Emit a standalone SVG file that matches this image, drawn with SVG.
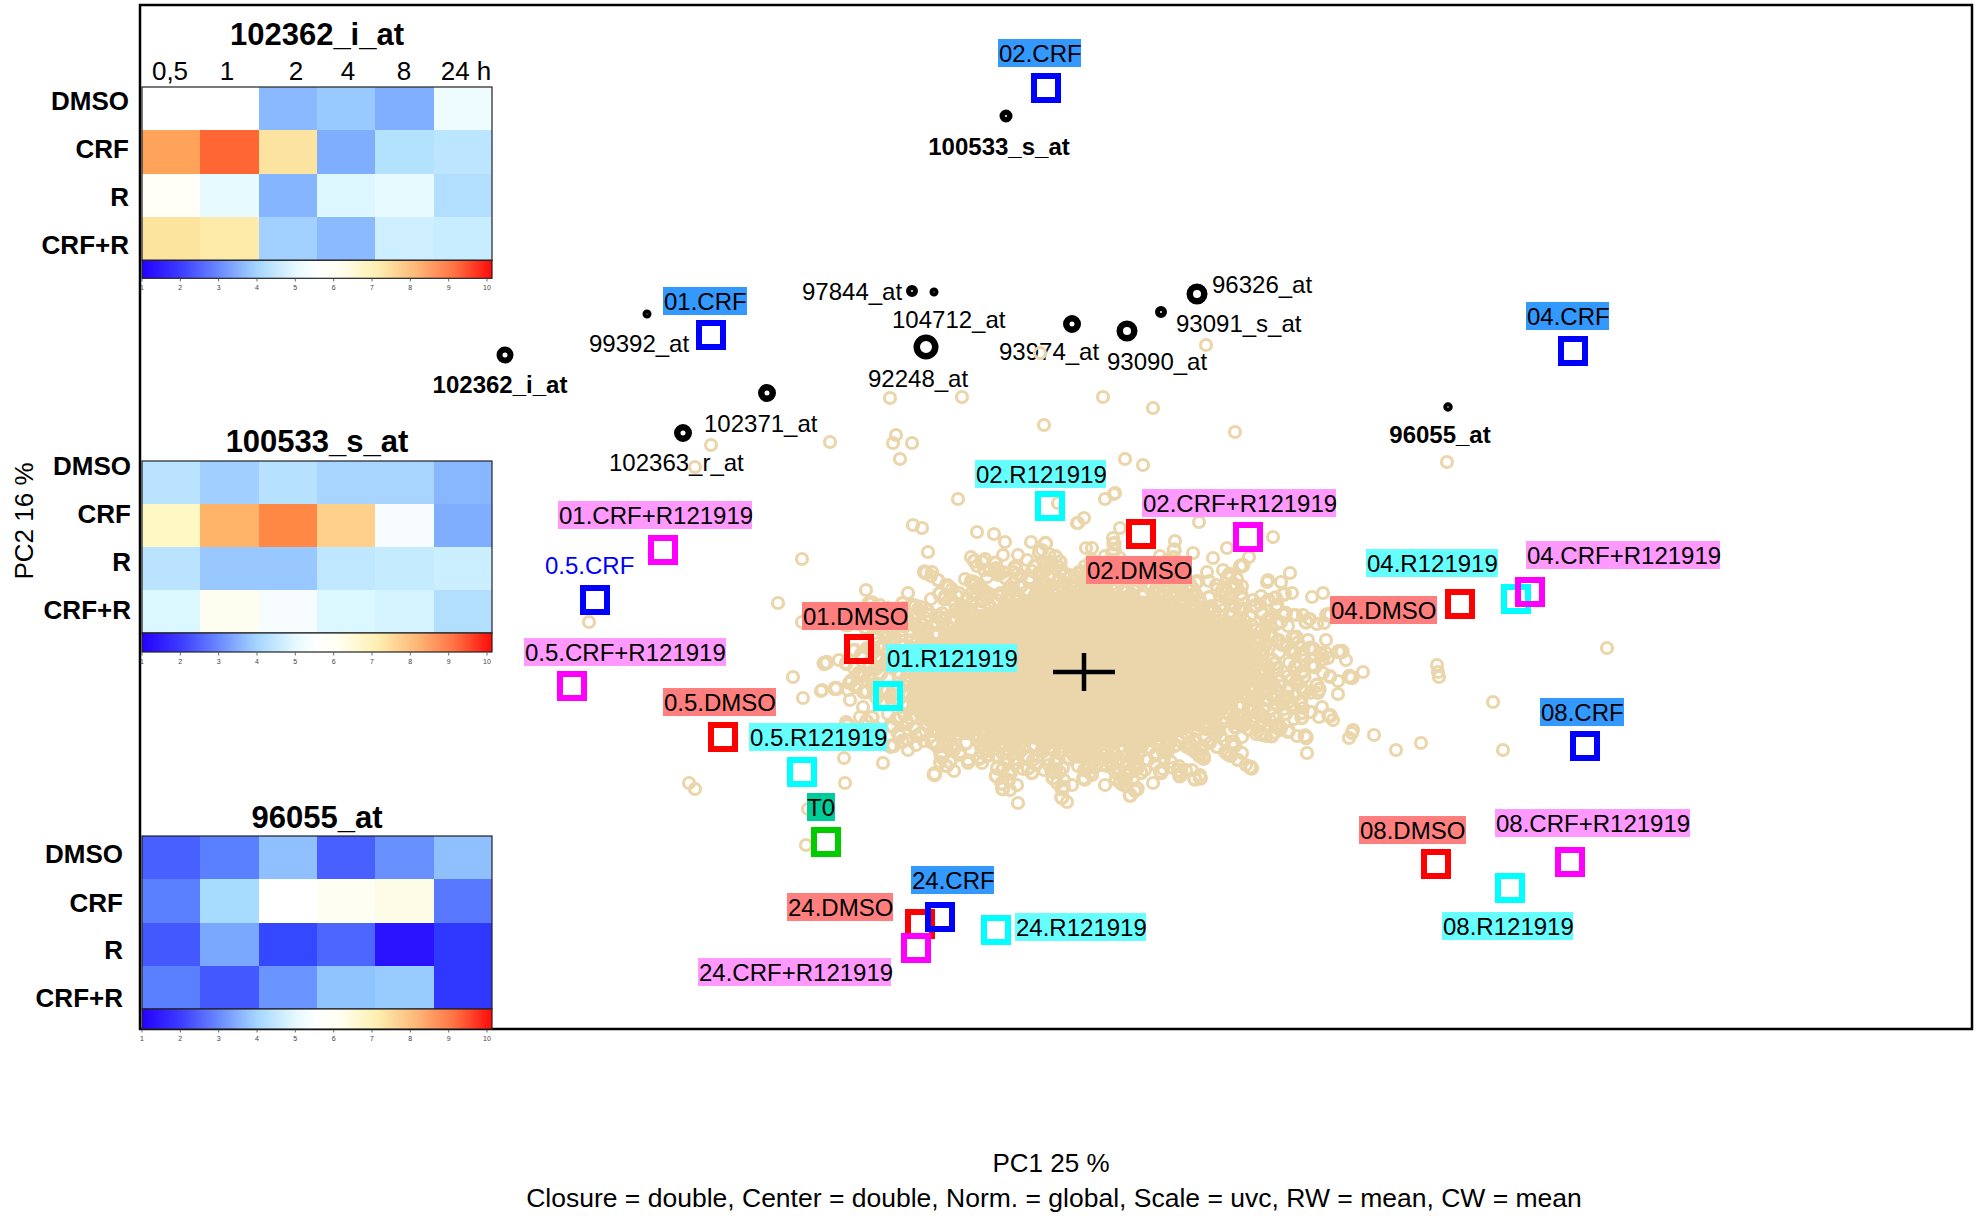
<svg xmlns="http://www.w3.org/2000/svg" width="1980" height="1216" viewBox="0 0 1980 1216">
<style>
text{font-family:"Liberation Sans",Arial,sans-serif;fill:#000}
.lb{font-size:24px}
.bl{font-size:24px;font-weight:bold}
.ht{font-size:31px;font-weight:bold;text-anchor:middle}
.rl{font-size:26px;font-weight:bold;text-anchor:end}
.cl{font-size:26px;text-anchor:middle}
.tk{font-size:7px;fill:#444;text-anchor:middle}
.ax{font-size:26px;text-anchor:middle}
.gb{fill:none;stroke:#222;stroke-width:1.2}
.crf{fill:#3399FF}.rr{fill:#66FFFF}.dm{fill:#FF7F7F}.cr{fill:#FF99FF}.tz{fill:#00CC99}
.sq{fill:none;stroke-width:6}
.pr{fill:#fff;stroke:#000}
.cc circle{fill:none;stroke:#EBD6AB;stroke-width:3.2}
</style>
<defs>
<linearGradient id="cb" gradientUnits="userSpaceOnUse" x1="142" y1="0" x2="492" y2="0">
<stop offset="0" stop-color="#2400FF"/><stop offset="0.11" stop-color="#3C3CFF"/><stop offset="0.22" stop-color="#6A8AFF"/><stop offset="0.33" stop-color="#A6D6FF"/><stop offset="0.44" stop-color="#E6F9FF"/><stop offset="0.5" stop-color="#FFFFFF"/><stop offset="0.56" stop-color="#FFFFF2"/><stop offset="0.67" stop-color="#FDF0B2"/><stop offset="0.78" stop-color="#FDBA7A"/><stop offset="0.89" stop-color="#FF7444"/><stop offset="1" stop-color="#FF0A0A"/>
</linearGradient>
<g id="ticks">
<path d="M142 0v3M180.3 0v3M218.7 0v3M257 0v3M295.3 0v3M333.7 0v3M372 0v3M410.3 0v3M448.7 0v3M487 0v3" stroke="#444" stroke-width="0.8"/>
<text class="tk" x="142" y="11">1</text><text class="tk" x="180.3" y="11">2</text><text class="tk" x="218.7" y="11">3</text><text class="tk" x="257" y="11">4</text><text class="tk" x="295.3" y="11">5</text><text class="tk" x="333.7" y="11">6</text><text class="tk" x="372" y="11">7</text><text class="tk" x="410.3" y="11">8</text><text class="tk" x="448.7" y="11">9</text><text class="tk" x="487" y="11">10</text>
</g>
<g id="band" class="cc">
<circle cx="1256" cy="679" r="5.5"/><circle cx="1249" cy="690" r="5.5"/><circle cx="1242" cy="706" r="5.5"/><circle cx="1224" cy="718" r="5.5"/><circle cx="1209" cy="725" r="5.5"/><circle cx="1182" cy="738" r="5.5"/><circle cx="1161" cy="740" r="5.5"/><circle cx="1130" cy="749" r="5.5"/><circle cx="1105" cy="748" r="5.5"/><circle cx="1071" cy="752" r="5.5"/><circle cx="1046" cy="745" r="5.5"/><circle cx="1015" cy="744" r="5.5"/><circle cx="994" cy="734" r="5.5"/><circle cx="967" cy="729" r="5.5"/><circle cx="952" cy="714" r="5.5"/><circle cx="934" cy="706" r="5.5"/><circle cx="928" cy="689" r="5.5"/><circle cx="919" cy="679" r="5.5"/><circle cx="923" cy="661" r="5.5"/><circle cx="924" cy="651" r="5.5"/><circle cx="938" cy="634" r="5.5"/><circle cx="948" cy="626" r="5.5"/><circle cx="971" cy="611" r="5.5"/><circle cx="990" cy="606" r="5.5"/><circle cx="1019" cy="596" r="5.5"/><circle cx="1042" cy="595" r="5.5"/><circle cx="1075" cy="588" r="5.5"/><circle cx="1101" cy="592" r="5.5"/><circle cx="1134" cy="591" r="5.5"/><circle cx="1157" cy="600" r="5.5"/><circle cx="1186" cy="602" r="5.5"/><circle cx="1205" cy="615" r="5.5"/><circle cx="1228" cy="622" r="5.5"/><circle cx="1238" cy="638" r="5.5"/><circle cx="1252" cy="647" r="5.5"/><circle cx="1253" cy="665" r="5.5"/>
<circle cx="1295" cy="666" r="5.5"/><circle cx="1288" cy="690" r="5.5"/><circle cx="1284" cy="700" r="5.5"/><circle cx="1262" cy="722" r="5.5"/><circle cx="1248" cy="729" r="5.5"/><circle cx="1217" cy="747" r="5.5"/><circle cx="1195" cy="751" r="5.5"/><circle cx="1155" cy="764" r="5.5"/><circle cx="1127" cy="763" r="5.5"/><circle cx="1084" cy="770" r="5.5"/><circle cx="1055" cy="763" r="5.5"/><circle cx="1015" cy="764" r="5.5"/><circle cx="988" cy="751" r="5.5"/><circle cx="952" cy="747" r="5.5"/><circle cx="934" cy="729" r="5.5"/><circle cx="907" cy="722" r="5.5"/><circle cx="897" cy="700" r="5.5"/><circle cx="883" cy="690" r="5.5"/><circle cx="880" cy="673" r="5.5"/><circle cx="889" cy="650" r="5.5"/><circle cx="893" cy="640" r="5.5"/><circle cx="913" cy="619" r="5.5"/><circle cx="928" cy="611" r="5.5"/><circle cx="959" cy="593" r="5.5"/><circle cx="982" cy="589" r="5.5"/><circle cx="1021" cy="576" r="5.5"/><circle cx="1049" cy="577" r="5.5"/><circle cx="1091" cy="570" r="5.5"/><circle cx="1121" cy="577" r="5.5"/><circle cx="1161" cy="576" r="5.5"/><circle cx="1188" cy="589" r="5.5"/><circle cx="1223" cy="593" r="5.5"/><circle cx="1242" cy="611" r="5.5"/><circle cx="1269" cy="619" r="5.5"/><circle cx="1278" cy="640" r="5.5"/><circle cx="1293" cy="650" r="5.5"/>
<circle cx="1330" cy="676" r="5.5"/><circle cx="1311" cy="712" r="5.5"/><circle cx="1289" cy="731" r="5.5"/><circle cx="1238" cy="760" r="5.5"/><circle cx="1192" cy="770" r="5.5"/><circle cx="1127" cy="786" r="5.5"/><circle cx="1064" cy="780" r="5.5"/><circle cx="1009" cy="780" r="5.5"/><circle cx="946" cy="766" r="5.5"/><circle cx="908" cy="740" r="5.5"/><circle cx="866" cy="721" r="5.5"/><circle cx="855" cy="687" r="5.5"/><circle cx="846" cy="663" r="5.5"/><circle cx="866" cy="628" r="5.5"/><circle cx="888" cy="608" r="5.5"/><circle cx="938" cy="580" r="5.5"/><circle cx="990" cy="570" r="5.5"/><circle cx="1043" cy="561" r="5.5"/><circle cx="1112" cy="553" r="5.5"/><circle cx="1167" cy="566" r="5.5"/><circle cx="1229" cy="574" r="5.5"/><circle cx="1269" cy="600" r="5.5"/><circle cx="1309" cy="619" r="5.5"/><circle cx="1320" cy="653" r="5.5"/>
<circle cx="1252" cy="670" r="5.5"/><circle cx="1246" cy="694" r="5.5"/><circle cx="1226" cy="712" r="5.5"/><circle cx="1206" cy="722" r="5.5"/><circle cx="1168" cy="740" r="5.5"/><circle cx="1134" cy="741" r="5.5"/><circle cx="1088" cy="749" r="5.5"/><circle cx="1052" cy="742" r="5.5"/><circle cx="1008" cy="740" r="5.5"/><circle cx="975" cy="728" r="5.5"/><circle cx="948" cy="712" r="5.5"/><circle cx="932" cy="694" r="5.5"/><circle cx="928" cy="669" r="5.5"/><circle cx="938" cy="650" r="5.5"/><circle cx="948" cy="636" r="5.5"/><circle cx="980" cy="617" r="5.5"/><circle cx="1013" cy="604" r="5.5"/><circle cx="1046" cy="598" r="5.5"/><circle cx="1093" cy="595" r="5.5"/><circle cx="1128" cy="602" r="5.5"/><circle cx="1173" cy="605" r="5.5"/><circle cx="1200" cy="622" r="5.5"/><circle cx="1232" cy="633" r="5.5"/><circle cx="1243" cy="656" r="5.5"/>
<circle cx="1266" cy="680" r="5.5"/><circle cx="1250" cy="706" r="5.5"/><circle cx="1233" cy="720" r="5.5"/><circle cx="1194" cy="741" r="5.5"/><circle cx="1160" cy="746" r="5.5"/><circle cx="1110" cy="757" r="5.5"/><circle cx="1070" cy="751" r="5.5"/><circle cx="1020" cy="752" r="5.5"/><circle cx="986" cy="735" r="5.5"/><circle cx="946" cy="726" r="5.5"/><circle cx="930" cy="700" r="5.5"/><circle cx="913" cy="686" r="5.5"/><circle cx="919" cy="658" r="5.5"/><circle cx="924" cy="643" r="5.5"/><circle cx="953" cy="618" r="5.5"/><circle cx="980" cy="609" r="5.5"/><circle cx="1026" cy="592" r="5.5"/><circle cx="1063" cy="592" r="5.5"/><circle cx="1117" cy="587" r="5.5"/><circle cx="1154" cy="598" r="5.5"/><circle cx="1200" cy="603" r="5.5"/><circle cx="1227" cy="624" r="5.5"/><circle cx="1257" cy="637" r="5.5"/><circle cx="1261" cy="664" r="5.5"/>
<circle cx="1288" cy="676" r="5.5"/><circle cx="1274" cy="699" r="5.5"/><circle cx="1262" cy="715" r="5.5"/><circle cx="1224" cy="740" r="5.5"/><circle cx="1191" cy="749" r="5.5"/><circle cx="1137" cy="765" r="5.5"/><circle cx="1094" cy="760" r="5.5"/><circle cx="1036" cy="765" r="5.5"/><circle cx="995" cy="749" r="5.5"/><circle cx="948" cy="740" r="5.5"/><circle cx="924" cy="715" r="5.5"/><circle cx="899" cy="699" r="5.5"/><circle cx="892" cy="668" r="5.5"/><circle cx="905" cy="645" r="5.5"/><circle cx="918" cy="629" r="5.5"/><circle cx="955" cy="604" r="5.5"/><circle cx="989" cy="595" r="5.5"/><circle cx="1043" cy="580" r="5.5"/><circle cx="1087" cy="583" r="5.5"/><circle cx="1143" cy="580" r="5.5"/><circle cx="1185" cy="595" r="5.5"/><circle cx="1231" cy="604" r="5.5"/><circle cx="1256" cy="629" r="5.5"/><circle cx="1282" cy="645" r="5.5"/>
<circle cx="1302" cy="688" r="5.5"/><circle cx="1286" cy="714" r="5.5"/><circle cx="1258" cy="731" r="5.5"/><circle cx="1173" cy="768" r="5.5"/><circle cx="1118" cy="774" r="5.5"/><circle cx="1003" cy="768" r="5.5"/><circle cx="960" cy="755" r="5.5"/><circle cx="916" cy="736" r="5.5"/><circle cx="888" cy="714" r="5.5"/><circle cx="874" cy="684" r="5.5"/><circle cx="878" cy="656" r="5.5"/><circle cx="892" cy="631" r="5.5"/><circle cx="917" cy="613" r="5.5"/><circle cx="1005" cy="578" r="5.5"/><circle cx="1062" cy="570" r="5.5"/><circle cx="1120" cy="571" r="5.5"/><circle cx="1171" cy="580" r="5.5"/><circle cx="1222" cy="590" r="5.5"/><circle cx="1262" cy="612" r="5.5"/><circle cx="1305" cy="660" r="5.5"/>
</g>
</defs>
<rect width="1980" height="1216" fill="#fff"/>

<rect id="frame" x="140" y="5" width="1832" height="1024" fill="none" stroke="#000" stroke-width="2.5"/>

<!-- probe markers -->
<g id="probes">
<g id="p-100533"><circle class="pr" cx="1006" cy="116" r="3.75" stroke-width="5.5"/><text class="bl" x="999" y="155" text-anchor="middle">100533_s_at</text></g>
<g id="p-102362"><circle class="pr" cx="505" cy="355" r="5.5" stroke-width="6"/><text class="bl" x="500" y="393" text-anchor="middle">102362_i_at</text></g>
<g id="p-96055"><circle class="pr" cx="1448" cy="407" r="2.75" stroke-width="4"/><text class="bl" x="1440" y="443" text-anchor="middle">96055_at</text></g>
<g id="p-99392"><circle class="pr" cx="647" cy="314" r="2.5" stroke-width="4"/><text class="lb" x="589" y="352">99392_at</text></g>
<g id="p-97844"><circle class="pr" cx="912" cy="291" r="3.5" stroke-width="5"/><text class="lb" x="802" y="300">97844_at</text></g>
<g id="p-104712"><circle class="pr" cx="934" cy="292" r="2.5" stroke-width="4"/><text class="lb" x="892" y="328">104712_at</text></g>
<g id="p-92248"><circle class="pr" cx="926" cy="347" r="9.25" stroke-width="6.5"/><text class="lb" x="868" y="387">92248_at</text></g>
<g id="p-93974"><circle class="pr" cx="1072" cy="324" r="5.75" stroke-width="6.5"/><text class="lb" x="999" y="360">93974_at</text></g>
<g id="p-93090"><circle class="pr" cx="1127" cy="331" r="7.25" stroke-width="6.5"/><text class="lb" x="1107" y="370">93090_at</text></g>
<g id="p-93091"><circle class="pr" cx="1161" cy="312" r="3.5" stroke-width="5"/><text class="lb" x="1176" y="332">93091_s_at</text></g>
<g id="p-96326"><circle class="pr" cx="1197" cy="294" r="7.25" stroke-width="6.5"/><text class="lb" x="1212" y="293">96326_at</text></g>
<g id="p-102371"><circle class="pr" cx="767" cy="393" r="5.75" stroke-width="6.5"/><text class="lb" x="704" y="432">102371_at</text></g>
<g id="p-102363"><circle class="pr" cx="683" cy="433" r="5.75" stroke-width="6.5"/><text class="lb" x="609" y="471">102363_r_at</text></g>
</g>

<!-- variable cloud -->
<g id="cloud" class="cc">
<use href="#band"/>
<use href="#band" transform="rotate(180 1088 670)"/>
<use href="#band" transform="translate(-87 -53.6) scale(1.08)"/>
<use href="#band" transform="translate(-97.9 -60.3) scale(1.09) rotate(180 1088 670)"/>
<use href="#band" transform="translate(8 5)"/>
<use href="#band" transform="translate(-7 -4) rotate(180 1088 670)"/>
<ellipse cx="1088" cy="670" rx="166" ry="79" fill="#EBD6AB"/>
<ellipse cx="955" cy="695" rx="48" ry="40" fill="#EBD6AB"/>
<circle cx="1206" cy="345" r="5.5"/><circle cx="890" cy="398" r="5.5"/><circle cx="962" cy="397" r="5.5"/><circle cx="1103" cy="397" r="5.5"/><circle cx="1153" cy="408" r="5.5"/><circle cx="1044" cy="425" r="5.5"/><circle cx="1235" cy="432" r="5.5"/><circle cx="1040" cy="353" r="5.5"/><circle cx="896" cy="435" r="5.5"/><circle cx="893" cy="443" r="5.5"/><circle cx="912" cy="443" r="5.5"/><circle cx="900" cy="459" r="5.5"/><circle cx="830" cy="442" r="5.5"/><circle cx="711" cy="445" r="5.5"/><circle cx="695" cy="467" r="5.5"/><circle cx="1125" cy="459" r="5.5"/><circle cx="1143" cy="465" r="5.5"/><circle cx="1115" cy="493" r="5.5"/><circle cx="958" cy="499" r="5.5"/><circle cx="1058" cy="503" r="5.5"/><circle cx="1077" cy="523" r="5.5"/><circle cx="922" cy="528" r="5.5"/><circle cx="913" cy="525" r="5.5"/><circle cx="977" cy="532" r="5.5"/><circle cx="994" cy="534" r="5.5"/><circle cx="1005" cy="542" r="5.5"/><circle cx="1031" cy="542" r="5.5"/><circle cx="928" cy="552" r="5.5"/><circle cx="932" cy="572" r="5.5"/><circle cx="965" cy="579" r="5.5"/><circle cx="971" cy="557" r="5.5"/><circle cx="985" cy="559" r="5.5"/><circle cx="1003" cy="555" r="5.5"/><circle cx="1018" cy="555" r="5.5"/><circle cx="1045" cy="565" r="5.5"/><circle cx="908" cy="593" r="5.5"/><circle cx="957" cy="596" r="5.5"/><circle cx="931" cy="599" r="5.5"/><circle cx="973" cy="599" r="5.5"/><circle cx="987" cy="577" r="5.5"/><circle cx="1030" cy="578" r="5.5"/><circle cx="1045" cy="584" r="5.5"/><circle cx="866" cy="590" r="5.5"/><circle cx="802" cy="559" r="5.5"/><circle cx="778" cy="603" r="5.5"/><circle cx="589" cy="622" r="5.5"/><circle cx="802" cy="622" r="5.5"/><circle cx="793" cy="677" r="5.5"/><circle cx="892" cy="637" r="5.5"/><circle cx="853" cy="650" r="5.5"/><circle cx="858" cy="673" r="5.5"/><circle cx="1017" cy="574" r="5.5"/><circle cx="1027" cy="560" r="5.5"/><circle cx="1000" cy="574" r="5.5"/>
<circle cx="1114" cy="494" r="5.5"/><circle cx="1105" cy="499" r="5.5"/><circle cx="1084" cy="518" r="5.5"/><circle cx="1078" cy="523" r="5.5"/><circle cx="1113" cy="538" r="5.5"/><circle cx="1120" cy="528" r="5.5"/><circle cx="1175" cy="541" r="5.5"/><circle cx="1193" cy="553" r="5.5"/><circle cx="1199" cy="522" r="5.5"/><circle cx="1273" cy="537" r="5.5"/><circle cx="1249" cy="557" r="5.5"/><circle cx="1227" cy="548" r="5.5"/><circle cx="1213" cy="558" r="5.5"/><circle cx="1207" cy="572" r="5.5"/><circle cx="1290" cy="573" r="5.5"/><circle cx="1242" cy="586" r="5.5"/><circle cx="1267" cy="582" r="5.5"/><circle cx="1277" cy="605" r="5.5"/><circle cx="1293" cy="615" r="5.5"/><circle cx="1086" cy="548" r="5.5"/><circle cx="1092" cy="548" r="5.5"/><circle cx="1079" cy="572" r="5.5"/><circle cx="1057" cy="588" r="5.5"/>
<circle cx="822" cy="690" r="5.5"/><circle cx="803" cy="698" r="5.5"/><circle cx="848" cy="690" r="5.5"/><circle cx="860" cy="672" r="5.5"/><circle cx="850" cy="700" r="5.5"/><circle cx="863" cy="707" r="5.5"/><circle cx="845" cy="783" r="5.5"/><circle cx="1010" cy="790" r="5.5"/><circle cx="1018" cy="803" r="5.5"/><circle cx="1067" cy="802" r="5.5"/><circle cx="1105" cy="785" r="5.5"/><circle cx="1123" cy="785" r="5.5"/><circle cx="1153" cy="783" r="5.5"/><circle cx="1060" cy="772" r="5.5"/><circle cx="1090" cy="773" r="5.5"/><circle cx="968" cy="763" r="5.5"/><circle cx="982" cy="763" r="5.5"/><circle cx="883" cy="763" r="5.5"/><circle cx="908" cy="750" r="5.5"/><circle cx="1242" cy="753" r="5.5"/><circle cx="1242" cy="737" r="5.5"/><circle cx="1213" cy="732" r="5.5"/><circle cx="1280" cy="730" r="5.5"/>
<circle cx="1447" cy="462" r="5.5"/><circle cx="1607" cy="648" r="5.5"/><circle cx="1438" cy="672" r="5.5"/><circle cx="1439" cy="677" r="5.5"/><circle cx="1493" cy="702" r="5.5"/><circle cx="1503" cy="750" r="5.5"/><circle cx="1421" cy="743" r="5.5"/><circle cx="1396" cy="750" r="5.5"/><circle cx="1374" cy="735" r="5.5"/><circle cx="1352" cy="733" r="5.5"/><circle cx="1349" cy="738" r="5.5"/><circle cx="1338" cy="694" r="5.5"/><circle cx="1363" cy="672" r="5.5"/><circle cx="1346" cy="660" r="5.5"/><circle cx="1326" cy="653" r="5.5"/><circle cx="1326" cy="640" r="5.5"/><circle cx="1324" cy="623" r="5.5"/><circle cx="1323" cy="593" r="5.5"/><circle cx="1312" cy="597" r="5.5"/><circle cx="1296" cy="615" r="5.5"/><circle cx="1276" cy="606" r="5.5"/><circle cx="1281" cy="582" r="5.5"/><circle cx="1268" cy="580" r="5.5"/><circle cx="1292" cy="593" r="5.5"/><circle cx="1308" cy="640" r="5.5"/><circle cx="1300" cy="665" r="5.5"/><circle cx="1303" cy="690" r="5.5"/><circle cx="1318" cy="693" r="5.5"/><circle cx="1322" cy="707" r="5.5"/><circle cx="1333" cy="720" r="5.5"/><circle cx="1292" cy="707" r="5.5"/><circle cx="1278" cy="727" r="5.5"/><circle cx="1307" cy="753" r="5.5"/><circle cx="1353" cy="730" r="5.5"/><circle cx="1285" cy="697" r="5.5"/><circle cx="1215" cy="727" r="5.5"/><circle cx="1200" cy="750" r="5.5"/><circle cx="1437" cy="665" r="5.5"/><circle cx="1288" cy="688" r="5.5"/>
<circle cx="689" cy="783" r="5.5"/><circle cx="695" cy="789" r="5.5"/><circle cx="806" cy="845" r="5.5"/><circle cx="808" cy="809" r="5.5"/><circle cx="844" cy="758" r="5.5"/><circle cx="821" cy="691" r="5.5"/><circle cx="846" cy="722" r="5.5"/><circle cx="861" cy="732" r="5.5"/>
</g>

<!-- sample nodes -->
<g id="samples">
<g id="s-02DMSO"><rect class="dm" x="1086" y="556" width="106" height="28"/><text class="lb" x="1087" y="579">02.DMSO</text><rect class="sq" x="1129" y="522" width="24" height="24" stroke="#FF0000"/></g>
<g id="s-01DMSO"><rect class="dm" x="802" y="602" width="106" height="28"/><text class="lb" x="803" y="625">01.DMSO</text><rect class="sq" x="847" y="637" width="24" height="24" stroke="#FF0000"/></g>
<g id="s-05DMSO"><rect class="dm" x="663" y="688" width="113" height="28"/><text class="lb" x="664" y="711">0.5.DMSO</text><rect class="sq" x="711" y="725" width="24" height="24" stroke="#FF0000"/></g>
<g id="s-04DMSO"><rect class="dm" x="1330" y="596" width="107" height="28"/><text class="lb" x="1331" y="619">04.DMSO</text><rect class="sq" x="1448" y="592" width="24" height="24" stroke="#FF0000"/></g>
<g id="s-08DMSO"><rect class="dm" x="1359" y="816" width="107" height="28"/><text class="lb" x="1360" y="839">08.DMSO</text><rect class="sq" x="1424" y="852" width="24" height="24" stroke="#FF0000"/></g>
<g id="s-24DMSO"><rect class="dm" x="787" y="893" width="106" height="28"/><text class="lb" x="788" y="916">24.DMSO</text><rect class="sq" x="908" y="912" width="24" height="24" stroke="#FF0000"/></g>

<g id="s-02CRF"><rect class="crf" x="998" y="39" width="83" height="28"/><text class="lb" x="999" y="62">02.CRF</text><rect class="sq" x="1034" y="76" width="24" height="24" stroke="#0000FF"/></g>
<g id="s-01CRF"><rect class="crf" x="663" y="287" width="84" height="28"/><text class="lb" x="664" y="310">01.CRF</text><rect class="sq" x="699" y="323" width="24" height="24" stroke="#0000FF"/></g>
<g id="s-04CRF"><rect class="crf" x="1526" y="302" width="83" height="28"/><text class="lb" x="1527" y="325">04.CRF</text><rect class="sq" x="1561" y="339" width="24" height="24" stroke="#0000FF"/></g>
<g id="s-08CRF"><rect class="crf" x="1540" y="698" width="84" height="28"/><text class="lb" x="1541" y="721">08.CRF</text><rect class="sq" x="1573" y="734" width="24" height="24" stroke="#0000FF"/></g>
<g id="s-24CRF"><rect class="crf" x="911" y="866" width="83" height="28"/><text class="lb" x="912" y="889">24.CRF</text><rect class="sq" x="928" y="905" width="24" height="24" stroke="#0000FF"/></g>
<g id="s-05CRF"><text class="lb" x="545" y="574" style="fill:#0000FF">0.5.CRF</text><rect class="sq" x="583" y="588" width="24" height="24" stroke="#0000FF"/></g>

<g id="s-02R"><rect class="rr" x="975" y="460" width="131" height="28"/><text class="lb" x="976" y="483">02.R121919</text><rect class="sq" x="1038" y="494" width="24" height="24" stroke="#00FFFF"/></g>
<g id="s-01R"><rect class="rr" x="886" y="644" width="131" height="28"/><text class="lb" x="887" y="667">01.R121919</text><rect class="sq" x="876" y="684" width="24" height="24" stroke="#00FFFF"/></g>
<g id="s-05R"><rect class="rr" x="749" y="723" width="138" height="28"/><text class="lb" x="750" y="746">0.5.R121919</text><rect class="sq" x="790" y="760" width="24" height="24" stroke="#00FFFF"/></g>
<g id="s-04R"><rect class="rr" x="1366" y="549" width="132" height="28"/><text class="lb" x="1367" y="572">04.R121919</text><rect class="sq" x="1504" y="587" width="24" height="24" stroke="#00FFFF"/></g>
<g id="s-08R"><rect class="rr" x="1442" y="912" width="131" height="28"/><text class="lb" x="1443" y="935">08.R121919</text><rect class="sq" x="1498" y="876" width="24" height="24" stroke="#00FFFF"/></g>
<g id="s-24R"><rect class="rr" x="1015" y="913" width="131" height="28"/><text class="lb" x="1016" y="936">24.R121919</text><rect class="sq" x="984" y="918" width="24" height="24" stroke="#00FFFF"/></g>

<g id="s-01CR"><rect class="cr" x="558" y="501" width="194" height="28"/><text class="lb" x="559" y="524">01.CRF+R121919</text><rect class="sq" x="651" y="538" width="24" height="24" stroke="#FF00FF"/></g>
<g id="s-02CR"><rect class="cr" x="1142" y="489" width="194" height="28"/><text class="lb" x="1143" y="512">02.CRF+R121919</text><rect class="sq" x="1236" y="525" width="24" height="24" stroke="#FF00FF"/></g>
<g id="s-05CR"><rect class="cr" x="524" y="638" width="202" height="28"/><text class="lb" x="525" y="661">0.5.CRF+R121919</text><rect class="sq" x="560" y="674" width="24" height="24" stroke="#FF00FF"/></g>
<g id="s-04CR"><rect class="cr" x="1526" y="541" width="194" height="28"/><text class="lb" x="1527" y="564">04.CRF+R121919</text><rect class="sq" x="1518" y="580" width="24" height="24" stroke="#FF00FF"/></g>
<g id="s-08CR"><rect class="cr" x="1495" y="809" width="195" height="28"/><text class="lb" x="1496" y="832">08.CRF+R121919</text><rect class="sq" x="1558" y="850" width="24" height="24" stroke="#FF00FF"/></g>
<g id="s-24CR"><rect class="cr" x="698" y="958" width="193" height="28"/><text class="lb" x="699" y="981">24.CRF+R121919</text><rect class="sq" x="904" y="936" width="24" height="24" stroke="#FF00FF"/></g>

<g id="s-T0"><rect class="tz" x="807" y="793" width="28" height="28"/><text class="lb" x="807" y="816">T0</text><rect class="sq" x="814" y="830" width="24" height="24" stroke="#00CC00"/></g>
</g>

<!-- centre cross -->
<path id="centre" d="M1053 672H1115M1084 653V691" stroke="#000" stroke-width="4.5"/>

<!-- heatmap 1 -->
<g id="hm-102362">
<text class="ht" x="317" y="45">102362_i_at</text>
<text class="cl" x="170" y="80">0,5</text><text class="cl" x="227" y="80">1</text><text class="cl" x="296" y="80">2</text><text class="cl" x="348" y="80">4</text><text class="cl" x="404" y="80">8</text><text class="cl" x="466" y="80">24 h</text>
<text class="rl" x="129" y="110">DMSO</text><text class="rl" x="129" y="158">CRF</text><text class="rl" x="129" y="206">R</text><text class="rl" x="129" y="254">CRF+R</text>
<g shape-rendering="crispEdges">
<rect x="142" y="87" width="58.8" height="43.8" fill="#FFFFFF"/><rect x="200.3" y="87" width="58.8" height="43.8" fill="#FFFFFF"/><rect x="258.7" y="87" width="58.8" height="43.8" fill="#8AB9FF"/><rect x="317" y="87" width="58.8" height="43.8" fill="#98C9FF"/><rect x="375.3" y="87" width="58.8" height="43.8" fill="#80AFFF"/><rect x="433.7" y="87" width="58.3" height="43.8" fill="#EEFBFF"/>
<rect x="142" y="130.3" width="58.8" height="43.8" fill="#FFA35A"/><rect x="200.3" y="130.3" width="58.8" height="43.8" fill="#FF6633"/><rect x="258.7" y="130.3" width="58.8" height="43.8" fill="#FDE3A0"/><rect x="317" y="130.3" width="58.8" height="43.8" fill="#80AEFF"/><rect x="375.3" y="130.3" width="58.8" height="43.8" fill="#B3E2FF"/><rect x="433.7" y="130.3" width="58.3" height="43.8" fill="#BCE6FF"/>
<rect x="142" y="173.5" width="58.8" height="43.8" fill="#FFFEF7"/><rect x="200.3" y="173.5" width="58.8" height="43.8" fill="#E6FAFF"/><rect x="258.7" y="173.5" width="58.8" height="43.8" fill="#85B5FF"/><rect x="317" y="173.5" width="58.8" height="43.8" fill="#DCF7FF"/><rect x="375.3" y="173.5" width="58.8" height="43.8" fill="#E6FAFF"/><rect x="433.7" y="173.5" width="58.3" height="43.8" fill="#B2DFFF"/>
<rect x="142" y="216.8" width="58.8" height="43.5" fill="#FDE49E"/><rect x="200.3" y="216.8" width="58.8" height="43.5" fill="#FEEBAA"/><rect x="258.7" y="216.8" width="58.8" height="43.5" fill="#A2D0FF"/><rect x="317" y="216.8" width="58.8" height="43.5" fill="#8CBAFF"/><rect x="375.3" y="216.8" width="58.8" height="43.5" fill="#CDEFFF"/><rect x="433.7" y="216.8" width="58.3" height="43.5" fill="#C8EDFF"/>
</g>
<rect class="gb" x="142" y="87" width="350" height="173.3"/>
<rect x="142" y="260.3" width="350" height="18" fill="url(#cb)" stroke="#222" stroke-width="1.2"/>
<use href="#ticks" y="278.5"/>
</g>

<!-- heatmap 2 -->
<g id="hm-100533">
<text class="ht" x="317" y="452">100533_s_at</text>
<text class="rl" x="131" y="475">DMSO</text><text class="rl" x="131" y="523">CRF</text><text class="rl" x="131" y="571">R</text><text class="rl" x="131" y="619">CRF+R</text>
<g shape-rendering="crispEdges">
<rect x="142" y="461" width="58.8" height="43.5" fill="#B9E3FF"/><rect x="200.3" y="461" width="58.8" height="43.5" fill="#A1CFFF"/><rect x="258.7" y="461" width="58.8" height="43.5" fill="#B6E1FF"/><rect x="317" y="461" width="58.8" height="43.5" fill="#A7D5FF"/><rect x="375.3" y="461" width="58.8" height="43.5" fill="#A7D5FF"/><rect x="433.7" y="461" width="58.3" height="43.5" fill="#88B6FF"/>
<rect x="142" y="504" width="58.8" height="43.5" fill="#FEF8C4"/><rect x="200.3" y="504" width="58.8" height="43.5" fill="#FFB46A"/><rect x="258.7" y="504" width="58.8" height="43.5" fill="#FF8844"/><rect x="317" y="504" width="58.8" height="43.5" fill="#FED089"/><rect x="375.3" y="504" width="58.8" height="43.5" fill="#F7FDFF"/><rect x="433.7" y="504" width="58.3" height="43.5" fill="#80AEFF"/>
<rect x="142" y="547" width="58.8" height="43.5" fill="#B9E3FF"/><rect x="200.3" y="547" width="58.8" height="43.5" fill="#98C8FF"/><rect x="258.7" y="547" width="58.8" height="43.5" fill="#98C8FF"/><rect x="317" y="547" width="58.8" height="43.5" fill="#BFE7FF"/><rect x="375.3" y="547" width="58.8" height="43.5" fill="#C5EBFF"/><rect x="433.7" y="547" width="58.3" height="43.5" fill="#CBEFFF"/>
<rect x="142" y="590" width="58.8" height="43" fill="#DBF7FF"/><rect x="200.3" y="590" width="58.8" height="43" fill="#FDFEF0"/><rect x="258.7" y="590" width="58.8" height="43" fill="#F7FDFF"/><rect x="317" y="590" width="58.8" height="43" fill="#DBF7FF"/><rect x="375.3" y="590" width="58.8" height="43" fill="#D5F4FF"/><rect x="433.7" y="590" width="58.3" height="43" fill="#B3DFFF"/>
</g>
<rect class="gb" x="142" y="461" width="350" height="172"/>
<rect x="142" y="633" width="350" height="19" fill="url(#cb)" stroke="#222" stroke-width="1.2"/>
<use href="#ticks" y="652.5"/>
</g>

<!-- heatmap 3 -->
<g id="hm-96055">
<text class="ht" x="317" y="828">96055_at</text>
<text class="rl" x="123" y="863">DMSO</text><text class="rl" x="123" y="912">CRF</text><text class="rl" x="123" y="959">R</text><text class="rl" x="123" y="1007">CRF+R</text>
<g shape-rendering="crispEdges">
<rect x="142" y="836" width="58.8" height="43.8" fill="#4860FF"/><rect x="200.3" y="836" width="58.8" height="43.8" fill="#5A80FF"/><rect x="258.7" y="836" width="58.8" height="43.8" fill="#90C0FF"/><rect x="317" y="836" width="58.8" height="43.8" fill="#4860FF"/><rect x="375.3" y="836" width="58.8" height="43.8" fill="#6890FF"/><rect x="433.7" y="836" width="58.3" height="43.8" fill="#90C0FF"/>
<rect x="142" y="879.3" width="58.8" height="43.8" fill="#5A80FF"/><rect x="200.3" y="879.3" width="58.8" height="43.8" fill="#A8DCFF"/><rect x="258.7" y="879.3" width="58.8" height="43.8" fill="#FFFFFF"/><rect x="317" y="879.3" width="58.8" height="43.8" fill="#FEFEF3"/><rect x="375.3" y="879.3" width="58.8" height="43.8" fill="#FDFDE7"/><rect x="433.7" y="879.3" width="58.3" height="43.8" fill="#5878FF"/>
<rect x="142" y="922.5" width="58.8" height="43.8" fill="#4458FF"/><rect x="200.3" y="922.5" width="58.8" height="43.8" fill="#7AA8FF"/><rect x="258.7" y="922.5" width="58.8" height="43.8" fill="#3448FF"/><rect x="317" y="922.5" width="58.8" height="43.8" fill="#4C66FF"/><rect x="375.3" y="922.5" width="58.8" height="43.8" fill="#2A14FF"/><rect x="433.7" y="922.5" width="58.3" height="43.8" fill="#3038FF"/>
<rect x="142" y="965.8" width="58.8" height="43.2" fill="#5A80FF"/><rect x="200.3" y="965.8" width="58.8" height="43.2" fill="#4458FF"/><rect x="258.7" y="965.8" width="58.8" height="43.2" fill="#6A94FF"/><rect x="317" y="965.8" width="58.8" height="43.2" fill="#90C4FF"/><rect x="375.3" y="965.8" width="58.8" height="43.2" fill="#98CCFF"/><rect x="433.7" y="965.8" width="58.3" height="43.2" fill="#3038FF"/>
</g>
<rect class="gb" x="142" y="836" width="350" height="173"/>
<rect x="142" y="1009" width="350" height="20" fill="url(#cb)" stroke="#222" stroke-width="1.2"/>
<use href="#ticks" y="1029.5"/>
</g>

<!-- axis texts -->
<text class="ax" transform="translate(33 521) rotate(-90)">PC2 16 %</text>
<text class="ax" x="1051" y="1172">PC1 25 %</text>
<text class="ax" x="1054" y="1207" style="font-size:26.5px">Closure = double, Center = double, Norm. = global, Scale = uvc, RW = mean, CW = mean</text>
</svg>
